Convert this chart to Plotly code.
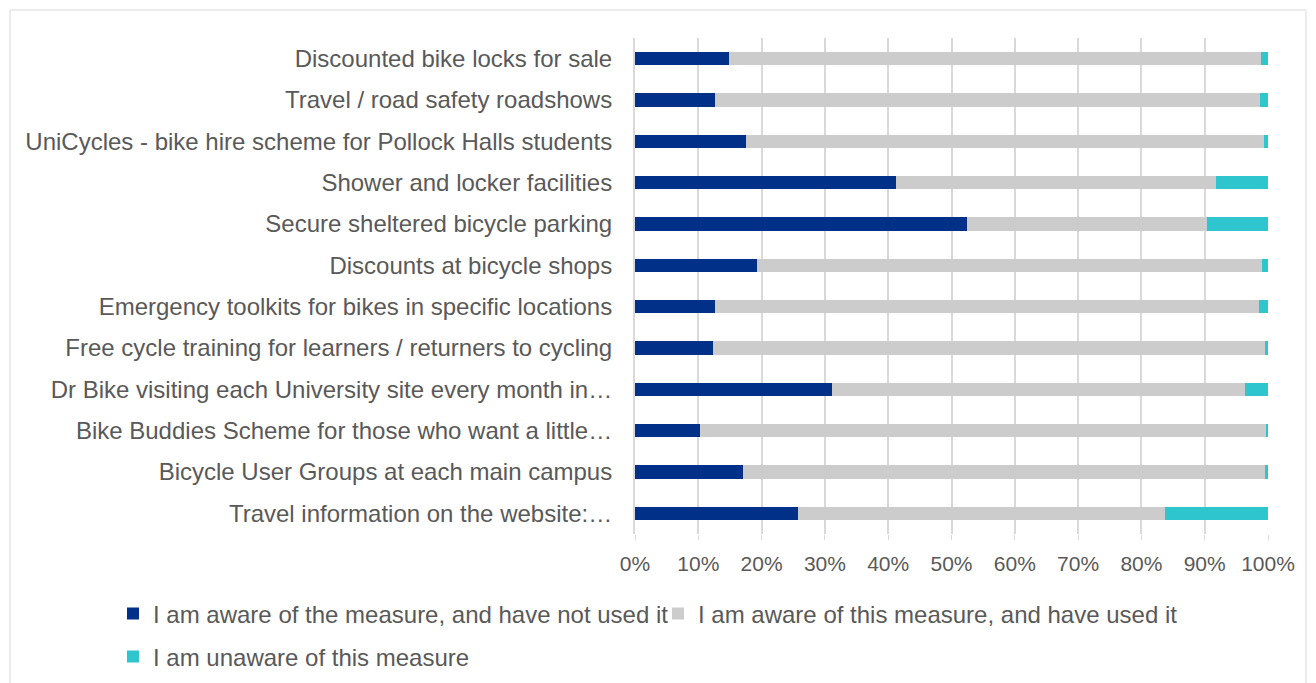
import plotly.graph_objects as go

categories = [
    "Discounted bike locks for sale",
    "Travel / road safety roadshows",
    "UniCycles - bike hire scheme for Pollock Halls students",
    "Shower and locker facilities",
    "Secure sheltered bicycle parking",
    "Discounts at bicycle shops",
    "Emergency toolkits for bikes in specific locations",
    "Free cycle training for learners / returners to cycling",
    "Dr Bike visiting each University site every month in…",
    "Bike Buddies Scheme for those who want a little…",
    "Bicycle User Groups at each main campus",
    "Travel information on the website:…",
]
aware_not_used = [14.8, 12.6, 17.5, 41.2, 52.4, 19.2, 12.6, 12.3, 31.1, 10.2, 17.1, 25.8]
aware_used = [84.1, 86.2, 81.8, 50.6, 38.0, 79.9, 86.0, 87.2, 65.2, 89.6, 82.4, 58.0]
unaware = [1.1, 1.2, 0.7, 8.2, 9.6, 0.9, 1.4, 0.5, 3.7, 0.2, 0.5, 16.2]

series = [
    ("I am aware of the measure, and have not used it", aware_not_used, "#003087", "legend"),
    ("I am aware of this measure, and have used it", aware_used, "#cccccc", "legend2"),
    ("I am unaware of this measure", unaware, "#2ec5cf", "legend3"),
]

fig = go.Figure()
for name, vals, col, leg in series:
    fig.add_trace(go.Bar(
        y=categories, x=[v / 100 for v in vals], name=name, orientation="h",
        marker=dict(color=col, line=dict(width=0)), legend=leg, showlegend=True,
    ))

font_col = "#595959"
FAM = "Liberation Sans, Arial, sans-serif"
# page body has an 8px margin, so the figure is drawn 8px right/down
W, H = 1308, 675
L, R, T, B = 627, 48, 30, 149
pw, ph = W - L - R, H - T - B


def px(xf):
    return (xf - L) / pw


def py(yf):
    return (T + ph - yf) / ph


legend_common = dict(
    orientation="h", xanchor="left", yanchor="middle",
    font=dict(size=24, color=font_col, family=FAM), traceorder="normal",
    itemwidth=30, bgcolor="rgba(0,0,0,0)",
)

fig.update_layout(
    showlegend=True,
    barmode="stack",
    bargap=0.685,
    width=W, height=H,
    paper_bgcolor="white", plot_bgcolor="white",
    margin=dict(l=L, r=R, t=T, b=B, autoexpand=False),
    font=dict(family=FAM, size=24, color=font_col),
    xaxis=dict(
        range=[0, 1], tickformat=".0%", dtick=0.1,
        showgrid=True, gridcolor="#d9d9d9", gridwidth=2,
        zeroline=False, showline=False,
        ticks="outside", ticklen=5, tickcolor="#d9d9d9", tickwidth=1,
        ticklabelstandoff=6,
        tickfont=dict(size=21, color=font_col, family=FAM),
    ),
    yaxis=dict(
        autorange="reversed", showgrid=False,
        showline=True, linecolor="#d9d9d9", linewidth=2,
        ticks="", ticklabelstandoff=16,
        tickfont=dict(size=24, color=font_col, family=FAM),
    ),
    legend=dict(x=px(105), y=py(606), visible=True, **legend_common),
    legend2=dict(x=px(650), y=py(606), visible=True, **legend_common),
    legend3=dict(x=px(105), y=py(649), visible=True, **legend_common),
    shapes=[dict(
        type="rect", xref="paper", yref="paper",
        x0=px(2), x1=px(1298), y0=-0.5, y1=py(2),
        line=dict(color="#d9d9d9", width=1), fillcolor="rgba(0,0,0,0)", layer="below",
    )],
)

fig.write_html("out.html")
